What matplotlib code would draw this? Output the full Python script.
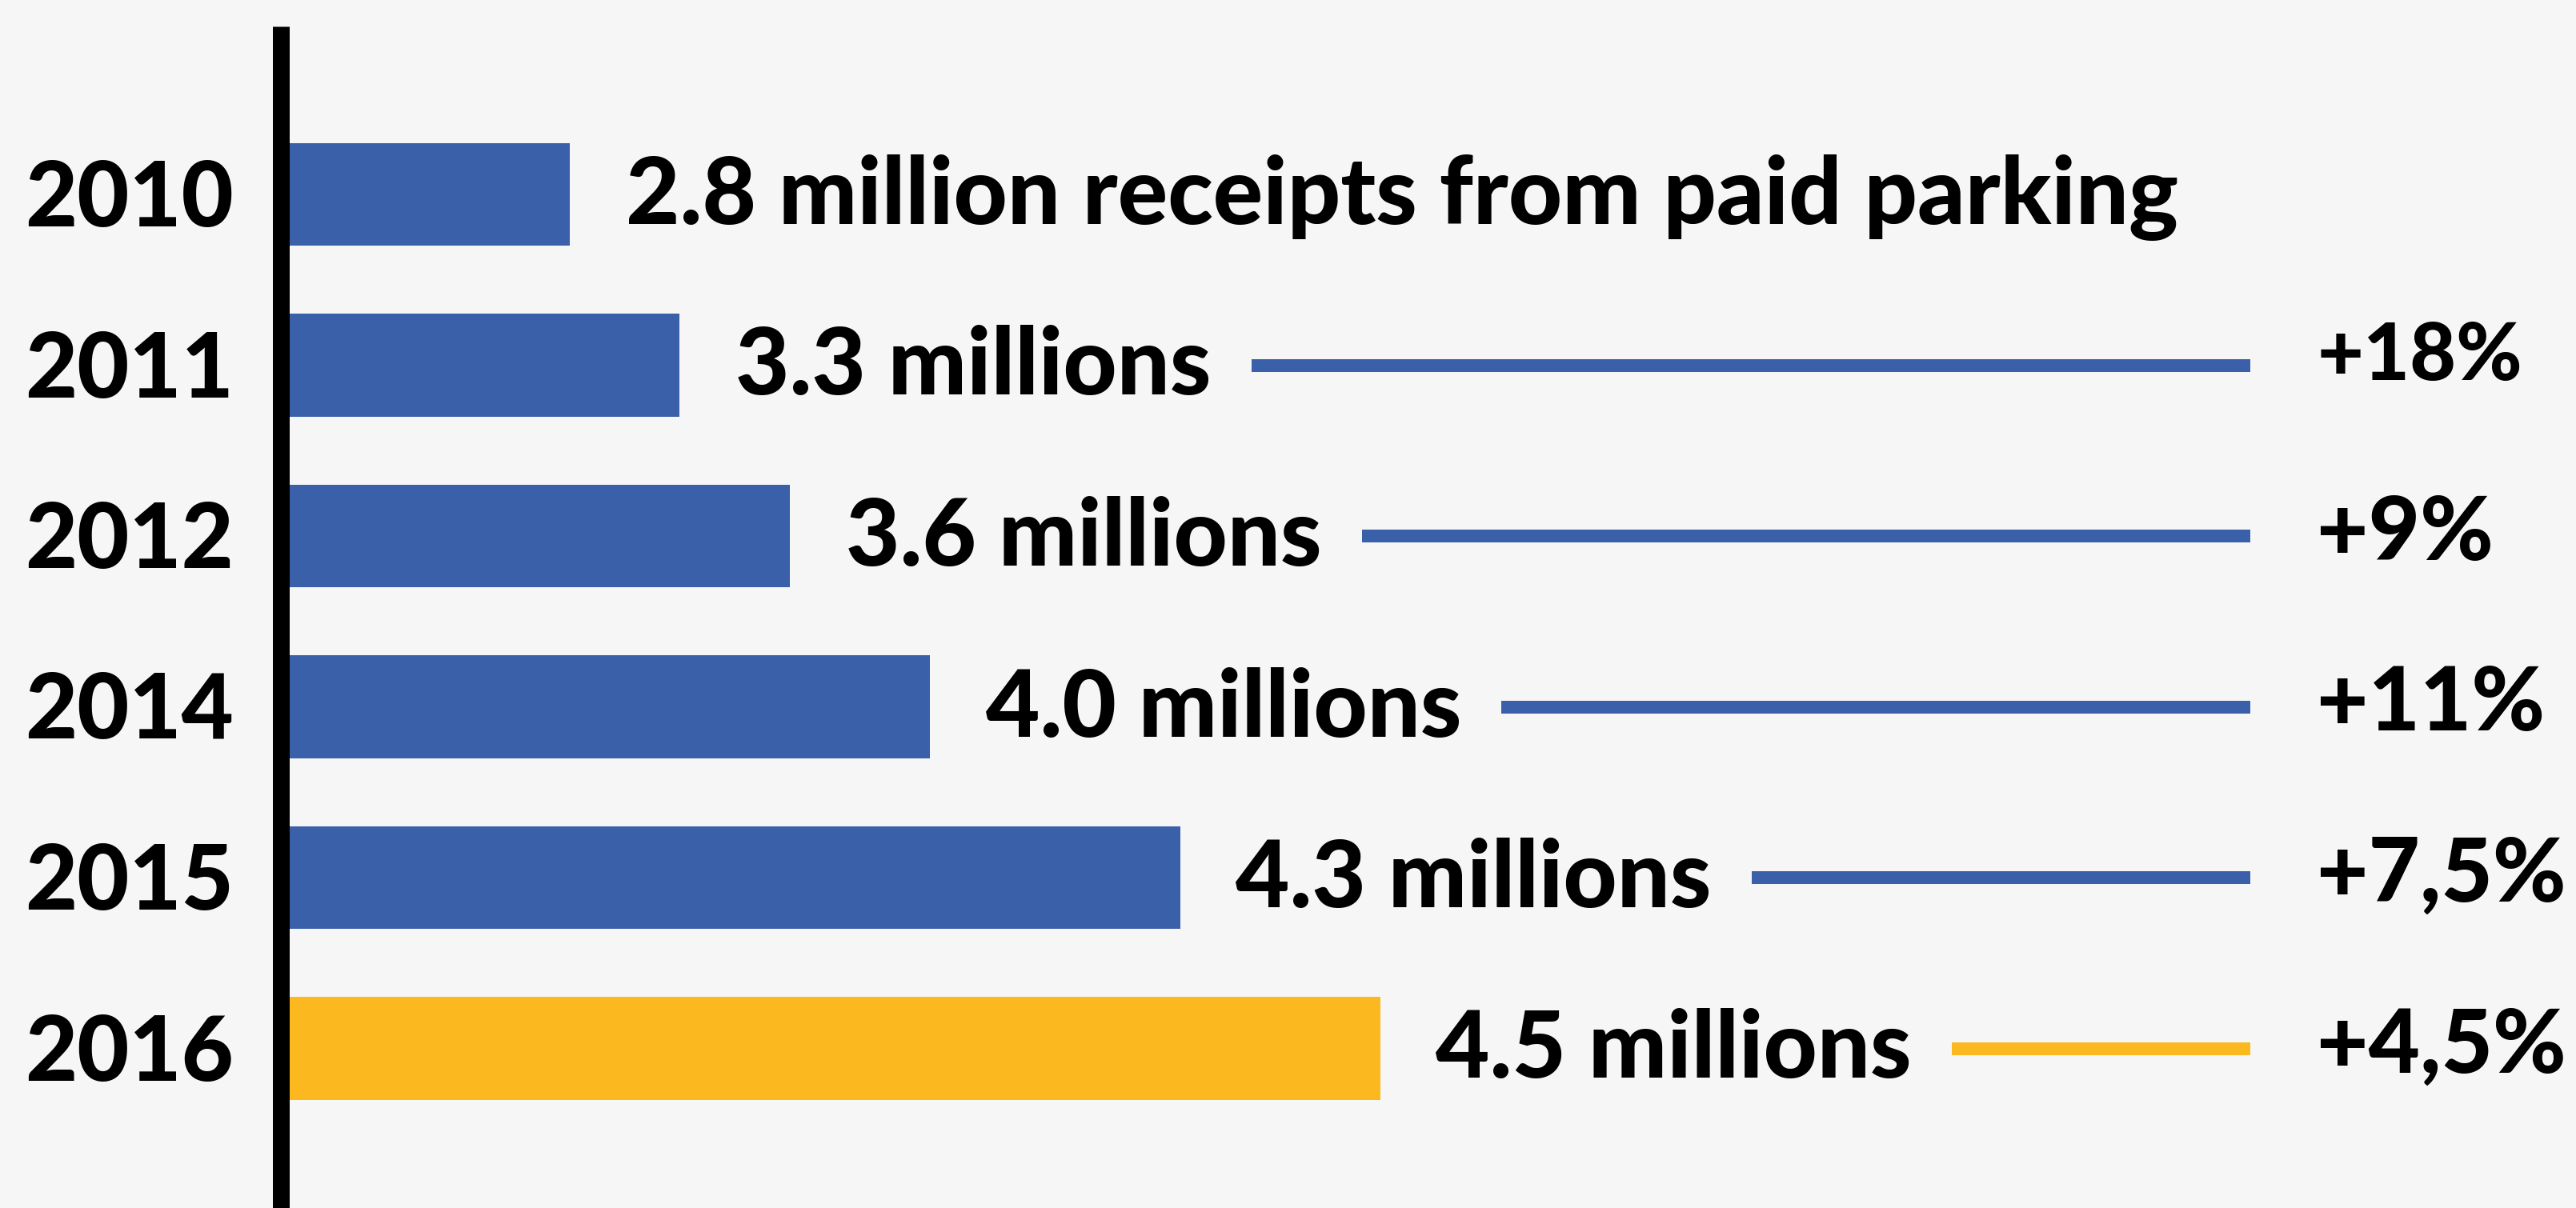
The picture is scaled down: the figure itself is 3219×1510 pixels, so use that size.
import numpy as np
import matplotlib
matplotlib.use('Agg')
import matplotlib.pyplot as plt
from matplotlib import transforms

# data
years = ['2010', '2011', '2012', '2014', '2015', '2016']
values = [2.8, 3.3, 3.6, 4.0, 4.3, 4.5]          # millions of receipts
bar_length = [2.8, 3.9, 5.0, 6.4, 8.9, 10.9]     # bar lengths as drawn (not to scale)
value_labels = ['2.8 million receipts from paid parking', '3.3 millions',
                '3.6 millions', '4.0 millions', '4.3 millions', '4.5 millions']
growth = ['', '+18%', '+9%', '+11%', '+7,5%', '+4,5%']
highlight = '2016'

bg = '#f6f6f6'
blue = '#3a60aa'
yellow = '#fbb91f'
font = 'Lato'

W, H = 3219, 1510
fig = plt.figure(figsize=(W / 100, H / 100), dpi=100, facecolor=bg)
ax = fig.add_axes([0, 0, 1, 1])
ax.set_facecolor(bg)

px = 125.0      # pixels per drawn unit
x0 = 362        # bar start in pixels
row = 213.5     # row spacing in pixels
top = 243       # first row centre from top
ax.set_xlim(-x0 / px, (W - x0) / px)
ax.set_ylim((H - top) / row, -top / row)
ax.axis('off')

y = np.arange(len(years))
colors = [yellow if yr == highlight else blue for yr in years]
ax.barh(y, bar_length, height=0.6, color=colors)

# vertical axis line
ax.axvline(-10.5 / px, ymin=0, ymax=1 - 33 / H, color='black', lw=21 * 0.72,
           solid_capstyle='butt')

fig_y = transforms.blended_transform_factory(fig.transFigure, ax.transData)

value_texts = []
for i, yr in enumerate(years):
    ax.text(31 / W, i, yr, transform=transforms.offset_copy(fig_y, fig=fig, y=-40, units='dots'),
            ha='left', va='baseline', fontsize=81, fontweight='black', family=font)
    t = ax.text(bar_length[i], i, value_labels[i],
                transform=transforms.offset_copy(ax.transData, fig=fig, x=70, y=-37, units='dots'),
                ha='left', va='baseline', fontsize=84, fontweight='black', family=font)
    value_texts.append(t)

fig.canvas.draw()
renderer = fig.canvas.get_renderer()
inv = ax.transData.inverted()
x_end = inv.transform((2812, 0))[0]
for i, g in enumerate(growth):
    if not g:
        continue
    bb = value_texts[i].get_window_extent(renderer)
    x_start = inv.transform((bb.x1 + 50, 0))[0]
    ax.plot([x_start, x_end], [i, i], color=colors[i], lw=16 * 0.72, solid_capstyle='butt')
    small = g == '+18%'
    ax.text(2895 / W, i, g,
            transform=transforms.offset_copy(fig_y, fig=fig, y=-18 if small else -30, units='dots'),
            ha='left', va='baseline', fontsize=72 if small else 80, fontweight='black', family=font)

fig.savefig('out.png', dpi=100, facecolor=bg)
